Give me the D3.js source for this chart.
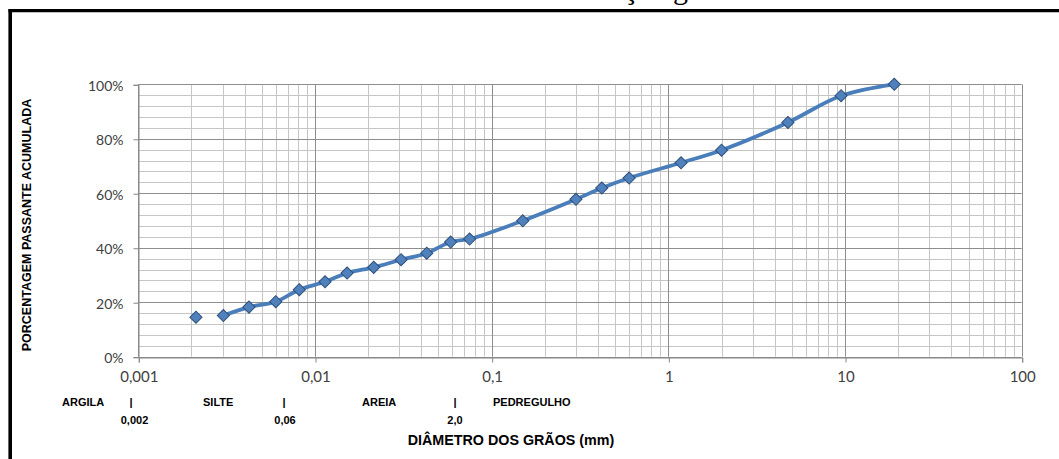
<!DOCTYPE html>
<html>
<head>
<meta charset="utf-8">
<script src="https://cdn.jsdelivr.net/npm/d3@7"></script>
<style>
  html, body { margin: 0; padding: 0; background: #fff; }
  svg { display: block; }
</style>
</head>
<body>
<svg id="chart" width="1059" height="459"></svg>
<script>
// ---- data ----
const titleText = "Gráfico 1 Curva de distribuição granulométrica";
const diameters = [0.00212, 0.00303, 0.00423, 0.006, 0.00815, 0.0114, 0.0152, 0.0215, 0.0307, 0.0429, 0.0586, 0.075, 0.15, 0.3, 0.42, 0.6, 1.18, 2.0, 4.75, 9.5, 19];
const passing   = [14.5, 15.1, 18.2, 20.2, 24.6, 27.5, 30.7, 32.8, 35.6, 38.0, 42.1, 43.2, 49.9, 57.8, 61.9, 65.6, 71.2, 75.8, 86.0, 95.8, 100];
const curveStartIndex = 1; // first point is drawn as a marker only
const xTickValues = [0.001, 0.01, 0.1, 1, 10, 100];
const xTickLabels = ["0,001", "0,01", "0,1", "1", "10", "100"];
const yTickValues = [0, 20, 40, 60, 80, 100];
const yTickLabels = ["0%", "20%", "40%", "60%", "80%", "100%"];
const yMinorStep = 4;
const classNames = ["ARGILA", "SILTE", "AREIA", "PEDREGULHO"];
const boundaryLabels = ["0,002", "0,06", "2,0"];
const xTitle = "DIÂMETRO DOS GRÃOS (mm)";
const yTitle = "PORCENTAGEM PASSANTE ACUMULADA";

// ---- layout ----
const svg = d3.select("#chart");
const plot = { left: 138.3, right: 1021.7, top: 84.3, bottom: 356.7 };

const x = d3.scaleLog().domain([0.001, 100]).range([plot.left, plot.right]);
const y = d3.scaleLinear().domain([0, 100]).range([plot.bottom, plot.top]);

// frame (partially visible)
svg.append("line").attr("x1", 8.5).attr("x2", 1070).attr("y1", 10.7).attr("y2", 10.7)
  .attr("stroke", "#000").attr("stroke-width", 3.2);
svg.append("line").attr("x1", 10.2).attr("x2", 10.2).attr("y1", 9).attr("y2", 470)
  .attr("stroke", "#000").attr("stroke-width", 3.6);

// title (cut off at the top, as in the source)
svg.append("text").attr("x", 570).attr("y", -1.2)
  .attr("text-anchor", "middle")
  .attr("font-family", "Liberation Serif, serif").attr("font-size", 30)
  .attr("fill", "#000").text(titleText);

const g = svg.append("g");

// minor horizontal gridlines
const yMinor = d3.range(0, 100 + 0.001, yMinorStep).filter(v => v % 20 !== 0);
g.selectAll(".hminor").data(yMinor).enter().append("line")
  .attr("x1", plot.left).attr("x2", plot.right)
  .attr("y1", d => Math.round(y(d)) + 0.5).attr("y2", d => Math.round(y(d)) + 0.5)
  .attr("stroke", "#c6c6c6").attr("stroke-width", 1);

// minor vertical gridlines
const xMinor = [];
for (let e = -3; e <= 1; e++) for (let m = 2; m <= 9; m++) xMinor.push(m * Math.pow(10, e));
g.selectAll(".vminor").data(xMinor).enter().append("line")
  .attr("x1", d => Math.round(x(d)) + 0.5).attr("x2", d => Math.round(x(d)) + 0.5)
  .attr("y1", plot.top).attr("y2", plot.bottom)
  .attr("stroke", "#c6c6c6").attr("stroke-width", 1);

// major gridlines
g.selectAll(".hmajor").data(yTickValues).enter().append("line")
  .attr("x1", plot.left).attr("x2", plot.right)
  .attr("y1", d => Math.round(y(d)) + 0.5).attr("y2", d => Math.round(y(d)) + 0.5)
  .attr("stroke", "#8e8e8e").attr("stroke-width", 1);
g.selectAll(".vmajor").data(xTickValues).enter().append("line")
  .attr("x1", d => Math.round(x(d)) + 0.5).attr("x2", d => Math.round(x(d)) + 0.5)
  .attr("y1", plot.top).attr("y2", plot.bottom)
  .attr("stroke", "#8e8e8e").attr("stroke-width", 1);

// axes
const yAxis = d3.axisLeft(y).tickValues(yTickValues).tickFormat((d, i) => yTickLabels[i])
  .tickSize(5).tickPadding(10);
const ya = svg.append("g").attr("transform", `translate(${Math.round(plot.left) + 0.5},0.5)`).call(yAxis);
ya.select(".domain").attr("stroke", "#868686");
ya.selectAll(".tick line").attr("stroke", "#868686");
ya.selectAll(".tick text").attr("font-family", "Lato, sans-serif").attr("font-size", 14)
  .attr("fill", "#404040").attr("dy", "0.4em");

const xAxis = d3.axisBottom(x).tickValues(xTickValues).tickFormat((d, i) => xTickLabels[i])
  .tickSize(5).tickPadding(9);
const xa = svg.append("g").attr("transform", `translate(0.5,${Math.round(plot.bottom) + 0.5})`).call(xAxis);
xa.select(".domain").attr("stroke", "#868686");
xa.selectAll(".tick line").attr("stroke", "#868686");
xa.selectAll(".tick text").attr("font-family", "Lato, sans-serif").attr("font-size", 15)
  .attr("fill", "#404040");

// data
const pts = diameters.map((d, i) => ({ d, p: passing[i] }));
const line = d3.line().x(d => x(d.d)).y(d => y(d.p)).curve(d3.curveCatmullRom.alpha(0.5));
svg.append("path").datum(pts.slice(curveStartIndex))
  .attr("d", line).attr("fill", "none")
  .attr("stroke", "#4a7ebb").attr("stroke-width", 3.8)
  .attr("stroke-linejoin", "round").attr("stroke-linecap", "round");

svg.selectAll(".mk").data(pts).enter().append("path")
  .attr("d", d3.symbol().type(d3.symbolSquare).size(74))
  .attr("transform", d => `translate(${x(d.d)},${y(d.p)}) rotate(45)`)
  .attr("fill", "#4f81bd").attr("stroke", "#2f4f7a").attr("stroke-width", 1);

// soil classification annotations
const annFont = "Liberation Sans, Arial, sans-serif";
const classPos = [62, 203, 362, 493];
const barPos = [131, 284, 455];
const boundPos = [134.5, 285, 455];
svg.selectAll(".cls").data(classNames).enter().append("text")
  .attr("x", (d, i) => classPos[i]).attr("y", 406)
  .attr("font-family", annFont).attr("font-weight", "bold").attr("font-size", 11)
  .attr("fill", "#000").text(d => d);
svg.selectAll(".bar").data(barPos).enter().append("text")
  .attr("x", d => d).attr("y", 406).attr("text-anchor", "middle")
  .attr("font-family", annFont).attr("font-weight", "bold").attr("font-size", 11)
  .attr("fill", "#000").text("|");
svg.selectAll(".bnd").data(boundaryLabels).enter().append("text")
  .attr("x", (d, i) => boundPos[i]).attr("y", 424).attr("text-anchor", "middle")
  .attr("font-family", annFont).attr("font-weight", "bold").attr("font-size", 11)
  .attr("fill", "#000").text(d => d);

// axis titles
svg.append("text").attr("x", 511).attr("y", 444.5).attr("text-anchor", "middle")
  .attr("font-family", annFont).attr("font-weight", "bold").attr("font-size", 14.3)
  .attr("fill", "#000").text(xTitle);
svg.append("text").attr("transform", "translate(31,225) rotate(-90)")
  .attr("text-anchor", "middle")
  .attr("font-family", annFont).attr("font-weight", "bold").attr("font-size", 12.5)
  .attr("fill", "#000").text(yTitle);
</script>
</body>
</html>
